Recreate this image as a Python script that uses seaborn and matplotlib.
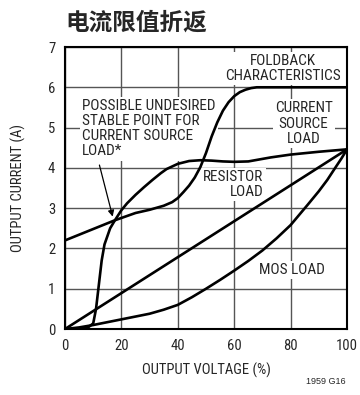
import matplotlib
matplotlib.use("Agg")
import matplotlib.pyplot as plt
import seaborn as sns
import pandas as pd

# Foldback current limit (A) vs output voltage (%)
foldback_v = [0, 17.7, 25, 30, 35, 38, 40, 42, 44, 46, 48, 50, 52, 54, 56, 58, 60, 62, 64, 66, 68, 100]
foldback_i = [2.2, 2.7, 2.88, 2.96, 3.06, 3.15, 3.25, 3.4, 3.56, 3.76, 4.02, 4.37, 4.78, 5.13,
              5.42, 5.63, 5.78, 5.88, 5.94, 5.98, 6.0, 6.0]

# Current source load
source_v = [0, 5, 8, 10, 11, 12, 13, 14, 16, 17.7, 20, 22, 25, 28, 31, 34, 36, 40, 44, 48, 52,
            56, 60, 65, 73, 80, 90, 100]
source_i = [0, 0.0, 0.03, 0.14, 0.5, 1.1, 1.7, 2.1, 2.5, 2.7, 2.95, 3.12, 3.33, 3.52, 3.7, 3.87,
            3.97, 4.1, 4.17, 4.19, 4.18, 4.16, 4.15, 4.16, 4.26, 4.33, 4.4, 4.46]

# Resistor load
resistor_v = [0, 100]
resistor_i = [0, 4.46]

# MOS load
mos_v = [0, 5, 10, 15, 20, 25, 30, 35, 40, 45, 50, 55, 60, 65, 70, 75, 80, 86, 90, 93, 96, 98, 100]
mos_i = [0, 0.04, 0.1, 0.17, 0.24, 0.31, 0.38, 0.48, 0.6, 0.79, 1.0, 1.22, 1.45, 1.69, 1.95,
         2.25, 2.58, 3.08, 3.42, 3.7, 4.02, 4.23, 4.46]

x_ticks = [0, 20, 40, 60, 80, 100]
y_ticks = [0, 1, 2, 3, 4, 5, 6, 7]

sns.set_theme(style="white")
narrow = ["Liberation Sans Narrow", "Roboto Condensed", "Arial Narrow", "Liberation Sans",
          "DejaVu Sans"]
plt.rcParams["font.family"] = narrow

frames = []
for name, v, i in [("foldback", foldback_v, foldback_i),
                   ("source", source_v, source_i),
                   ("resistor", resistor_v, resistor_i),
                   ("mos", mos_v, mos_i)]:
    frames.append(pd.DataFrame({"v": v, "i": i, "curve": name}))
df = pd.concat(frames, ignore_index=True)

fig = plt.figure(figsize=(3.6, 3.95), dpi=100)
ax = fig.add_axes([0.1806, 0.167, 0.7833, 0.714])

sns.lineplot(data=df, x="v", y="i", hue="curve", units="curve", estimator=None, sort=False,
             palette=["black"] * 4, linewidth=1.9, legend=False, ax=ax, zorder=4)

ax.set_xlim(0, 100)
ax.set_ylim(0, 7)
ax.set_xticks(x_ticks)
ax.set_yticks(y_ticks)
ax.set_xticklabels([str(t) for t in x_ticks], fontsize=10.5)
ax.set_yticklabels([str(t) for t in y_ticks], fontsize=10.5)
ax.tick_params(length=0, pad=7)
ax.grid(True, color="#555555", linewidth=1.0)
ax.set_axisbelow(True)
for s in ax.spines.values():
    s.set_color("black")
    s.set_linewidth(1.5)

ax.set_xlabel("OUTPUT VOLTAGE (%)", fontsize=10.5, labelpad=7)
ax.set_ylabel("OUTPUT CURRENT (A)", fontsize=10.5, labelpad=15.5)

box = dict(facecolor="white", edgecolor="none", pad=1.5)
tk = dict(fontsize=11, zorder=3, bbox=box)

ax.text(77.4, 6.47, "FOLDBACK\nCHARACTERISTICS", ha="center", va="center",
        linespacing=1.1, **tk)
ax.text(6.0, 4.97, "POSSIBLE UNDESIRED\nSTABLE POINT FOR\nCURRENT SOURCE\nLOAD*",
        ha="left", va="center", linespacing=1.1, **tk)
ax.text(84.6, 5.1, "CURRENT\nSOURCE\nLOAD", ha="center", va="center", linespacing=1.1, **tk)
ax.text(70.4, 3.58, "RESISTOR\nLOAD", ha="right", va="center", linespacing=1.1, **tk)
ax.text(80.5, 1.46, "MOS LOAD", ha="center", va="center", **tk)

ax.annotate("", xy=(16.9, 2.79), xytext=(12.2, 4.07),
            arrowprops=dict(arrowstyle="-|>", color="black", lw=0.9,
                            mutation_scale=9, shrinkA=0, shrinkB=0), zorder=5)

fig.text(65 / 360, 1 - 23 / 395, "电流限值折返", ha="left", va="center", fontsize=17,
         fontweight="bold", family=["Noto Sans CJK SC", "DejaVu Sans"])
fig.text(346 / 360, 1 - 381 / 395, "1959 G16", ha="right", va="center", fontsize=6.5,
         family=["Liberation Sans", "DejaVu Sans"])

fig.savefig("out.png", dpi=100)
